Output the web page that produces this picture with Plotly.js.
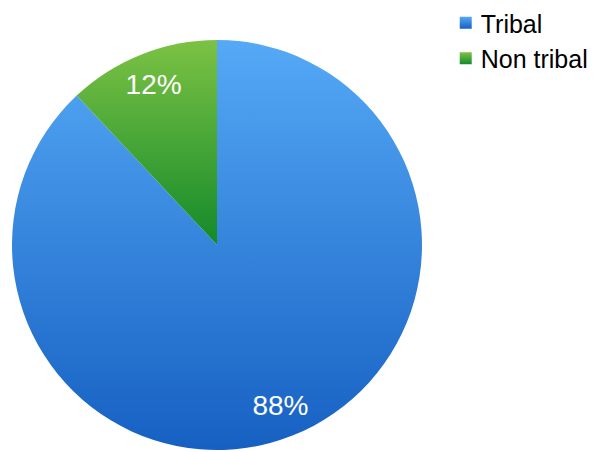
<!DOCTYPE html>
<html>
<head>
<meta charset="utf-8">
<script src="https://cdn.plot.ly/plotly-3.0.1.min.js"></script>
<style>html,body{margin:0;padding:0;background:#fff;}#chart{width:598px;height:452px;}</style>
</head>
<body>
<div id="chart"></div>
<script>
const categories = ["Tribal", "Non tribal"];
const values = [88, 12];
const labelsText = ["88%", "12%"];
const baseColors = ["#3a8ae0", "#4aa53a"];

const FONT = "'Liberation Sans', Arial, sans-serif";
const dom = {x: [12/598, 422/598], y: [2/452, 412/452]};

const pieTrace = {
  type: "pie",
  labels: categories,
  values: values,
  textinfo: "none",
  sort: false,
  direction: "clockwise",
  rotation: 0,
  marker: {colors: baseColors, line: {width: 0}},
  domain: dom,
  hoverinfo: "none"
};

const labelTrace = {
  type: "pie",
  labels: categories,
  values: values,
  text: labelsText,
  textinfo: "text",
  textposition: "inside",
  insidetextorientation: "horizontal",
  hole: 0.68,
  sort: false,
  direction: "clockwise",
  rotation: 0,
  showlegend: false,
  marker: {colors: ["rgba(0,0,0,0)", "rgba(0,0,0,0)"], line: {width: 0}},
  insidetextfont: {family: FONT, size: 28, color: "#ffffff"},
  domain: dom,
  hoverinfo: "none"
};

const layout = {
  width: 598, height: 452,
  margin: {l: 0, r: 0, t: 0, b: 0},
  paper_bgcolor: "#ffffff",
  showlegend: true,
  legend: {
    x: 0.737, y: 1.0, xanchor: "left", yanchor: "top",
    font: {family: FONT, size: 25, color: "#000000"},
    itemwidth: 30, tracegroupgap: 0, bgcolor: "rgba(0,0,0,0)"
  },
  font: {family: FONT}
};

Plotly.newPlot("chart", [pieTrace, labelTrace], layout, {displayModeBar: false, staticPlot: true}).then(function (gd) {
  const NS = "http://www.w3.org/2000/svg";
  const svg = gd.querySelector("svg.main-svg");
  let defs = svg.querySelector("defs");
  if (!defs) { defs = document.createElementNS(NS, "defs"); svg.insertBefore(defs, svg.firstChild); }
  function grad(id, c1, c2) {
    const g = document.createElementNS(NS, "linearGradient");
    g.setAttribute("id", id);
    g.setAttribute("x1", "0"); g.setAttribute("y1", "0");
    g.setAttribute("x2", "0"); g.setAttribute("y2", "1");
    [[0, c1], [1, c2]].forEach(function (s) {
      const st = document.createElementNS(NS, "stop");
      st.setAttribute("offset", s[0]);
      st.setAttribute("stop-color", s[1]);
      g.appendChild(st);
    });
    defs.appendChild(g);
  }
  grad("gBlue", "#55a9f6", "#1660c2");
  grad("gGreen", "#7cc244", "#138a2a");
  const ids = ["gBlue", "gGreen"];
  const firstTrace = gd.querySelector("g.pielayer g.trace");
  firstTrace.querySelectorAll("g.slice path.surface").forEach(function (p, i) {
    p.style.fill = "url(#" + ids[i] + ")";
  });
  gd.querySelectorAll("g.legend g.traces").forEach(function (t, i) {
    t.querySelectorAll("path.legendpie").forEach(function (p) { p.style.fill = "url(#" + ids[i] + ")"; });
    const lp = t.querySelector("g.legendpoints");
    if (lp) lp.setAttribute("transform", "translate(5,0)");
  });
});
</script>
</body>
</html>
